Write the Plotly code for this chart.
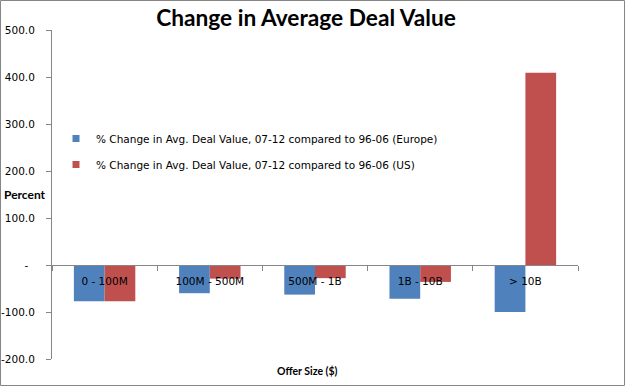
import plotly.graph_objects as go

categories = ["0 - 100M", "100M - 500M", "500M - 1B", "1B - 10B", "> 10B"]
europe = [-77, -60, -63, -72, -100]
us = [-77, -29, -28, -36, 409]
series_names = [
    "% Change in Avg. Deal Value, 07-12 compared to 96-06 (Europe)",
    "% Change in Avg. Deal Value, 07-12 compared to 96-06 (US)",
]
y_tickvals = [500, 400, 300, 200, 100, 0, -100, -200]
y_ticktext = ["500.0", "400.0", "300.0", "200.0", "100.0", "-\u00a0\u00a0", "-100.0", "-200.0"]

BLUE = "#4F81BD"
RED = "#C0504D"
AXIS = "#868686"
W, H = 625, 386
ML, MR, MT, MB = 52, 47, 30, 27
PW, PH = W - ML - MR, H - MT - MB
YMIN, YMAX = -200, 500

fig = go.Figure()
for name, vals, col in [(series_names[0], europe, BLUE), (series_names[1], us, RED)]:
    fig.add_trace(go.Bar(x=categories, y=vals, name=name, marker=dict(color=col, line=dict(width=0)),
                         showlegend=False))
for name, col, grp in [(series_names[0], BLUE, "e"), (series_names[1], RED, "u")]:
    fig.add_trace(go.Scatter(x=[None], y=[None], mode="markers", name=name, legendgroup=grp,
                             marker=dict(symbol="square", size=7, color=col)))

def px_x(px):
    return (px - ML) / PW

def px_y(py):
    return 1 - (py - MT) / PH

fig.update_layout(
    width=W, height=H, autosize=False,
    margin=dict(l=ML, r=MR, t=MT, b=MB, autoexpand=False),
    paper_bgcolor="white", plot_bgcolor="white",
    barmode="group", bargap=0.416, bargroupgap=0,
    title=dict(text="<b>Change in Average Deal Value</b>", x=306 / W, xref="container", xanchor="center",
               y=1 - 18 / H, yref="container", yanchor="middle",
               font=dict(family="Lato", size=22.7, color="black")),
    xaxis=dict(anchor="free", position=(0 - YMIN) / (YMAX - YMIN), showline=True, linecolor=AXIS, linewidth=1,
               ticks="outside", ticklen=5, tickcolor=AXIS, tickson="boundaries", showgrid=False,
               automargin=False, ticklabelstandoff=6,
               tickfont=dict(family="DejaVu Sans", size=10.5, color="black"), zeroline=False),
    yaxis=dict(range=[YMIN, YMAX], tickvals=y_tickvals, ticktext=y_ticktext, showline=True, linecolor=AXIS,
               linewidth=1, ticks="outside", ticklen=5, tickcolor=AXIS, showgrid=False, zeroline=False,
               ticklabelstandoff=9, automargin=False,
               tickfont=dict(family="DejaVu Sans", size=10.5, color="black")),
    legend=dict(x=px_x(56), y=px_y(124), xanchor="left", yanchor="top", bgcolor="rgba(0,0,0,0)",
                tracegroupgap=7, font=dict(family="DejaVu Sans", size=10.5, color="black")),
    annotations=[
        dict(text="<b>Percent</b>", x=px_x(25), y=px_y(194), xref="paper", yref="paper", showarrow=False,
             xanchor="center", yanchor="middle", font=dict(family="Lato", size=12, color="black")),
        dict(text="<b>Offer Size ($)</b>", x=px_x(307), y=px_y(371), xref="paper", yref="paper",
             showarrow=False, xanchor="center", yanchor="middle",
             font=dict(family="Lato", size=10.5, color="black")),
    ],
    shapes=[
        dict(type="rect", xref="paper", yref="paper", x0=px_x(0.5), x1=px_x(W - 0.5), y0=px_y(0.5),
             y1=px_y(H - 0.5), line=dict(color=AXIS, width=1), layer="above"),
    ],
)

fig.write_html("out.html", config={"displayModeBar": False},
               post_script="document.body.style.margin='0';document.body.style.padding='0';")
